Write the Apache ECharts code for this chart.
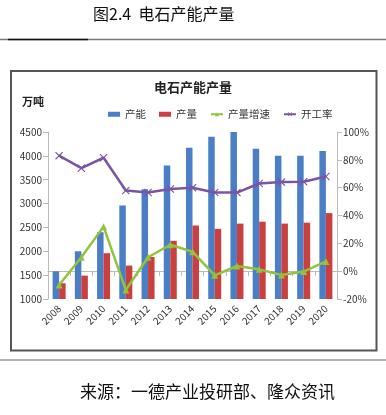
<!DOCTYPE html>
<html><head><meta charset="utf-8">
<script src="https://cdn.jsdelivr.net/npm/echarts@6/dist/echarts.min.js"></script>
<style>html,body{margin:0;padding:0;background:#fff}#c{width:386px;height:415px}</style>
</head><body><div id="c"></div>
<script>
const years = ['2008','2009','2010','2011','2012','2013','2014','2015','2016','2017','2018','2019','2020'];
const capacity = [1580,2000,2400,2960,3300,3800,4170,4400,4500,4150,4000,4000,4100];
const output = [1330,1490,1960,1700,1880,2220,2540,2470,2580,2620,2580,2600,2800];
const growth = [-10,10,32,-13.5,10,19,14,-3,3.7,1.3,-2.7,-0.3,7];
const utilization = [83,74,81.5,58,56.5,59,60,56.5,56.5,63,64,64.3,68];
const leftTicks = {min:1000,max:4500,interval:500};
const rightTicks = {min:-20,max:100,interval:20};

const FONT = '"Noto Sans CJK SC", "Liberation Sans", sans-serif';
const crossPath = 'path://M0,1L1,0L5,4L9,0L10,1L6,5L10,9L9,10L5,6L1,10L0,9L4,5Z';
const chart = echarts.init(document.getElementById('c'), null, {renderer:'canvas'});
chart.setOption({
  animation:false,
  backgroundColor:'#fff',
  textStyle:{fontFamily:FONT},
  title:{text:'电石产能产量',left:'center',top:76,textStyle:{fontSize:13,fontWeight:'bold',color:'#222',fontFamily:FONT}},
  legend:{left:103,top:104,itemWidth:12,itemHeight:5,itemGap:13,
    textStyle:{fontSize:10.5,color:'#333',fontFamily:FONT},
    data:[{name:'产能',icon:'rect'},{name:'产量',icon:'rect'},{name:'产量增速'},{name:'开工率'}]},
  grid:{left:48,right:49,top:132,bottom:116,containLabel:false},
  xAxis:{type:'category',data:years,boundaryGap:true,
    axisLine:{lineStyle:{color:'#bbb'}},axisTick:{show:true,alignWithLabel:false,lineStyle:{color:'#bbb'}},
    axisLabel:{rotate:45,fontSize:10,color:'#333',margin:8,interval:0}},
  yAxis:[
    {type:'value',min:leftTicks.min,max:leftTicks.max,interval:leftTicks.interval,
     axisLine:{show:true,lineStyle:{color:'#bbb'}},axisTick:{show:true,lineStyle:{color:'#bbb'}},
     splitLine:{show:false},axisLabel:{fontSize:10,color:'#333',margin:6,formatter:function(v){return String(v);}}},
    {type:'value',min:rightTicks.min,max:rightTicks.max,interval:rightTicks.interval,position:'right',
     axisLine:{show:true,lineStyle:{color:'#bbb'}},axisTick:{show:true,lineStyle:{color:'#bbb'}},
     splitLine:{show:false},axisLabel:{fontSize:10,color:'#333',margin:6,formatter:'{value}%'}}
  ],
  series:[
    {name:'产能',type:'bar',data:capacity,barWidth:6.5,barGap:'0%',itemStyle:{color:'#4A7EC7'}},
    {name:'产量',type:'bar',data:output,barWidth:6.5,barGap:'0%',itemStyle:{color:'#C9403E'}},
    {name:'产量增速',type:'line',yAxisIndex:1,data:growth,symbol:'triangle',symbolSize:7,
     lineStyle:{width:2.5,color:'#92C23E'},itemStyle:{color:'#92C23E'}},
    {name:'开工率',type:'line',yAxisIndex:1,data:utilization,symbol:crossPath,symbolSize:8,
     lineStyle:{width:2.5,color:'#7A54A6'},itemStyle:{color:'#7A54A6'}}
  ],
  graphic:[
    {type:'text',left:93,top:6,style:{text:'图2.4  电石产能产量',fontSize:16,fill:'#111',fontFamily:FONT}},
    {type:'line',shape:{x1:0,y1:39.5,x2:386,y2:39.5},style:{stroke:'#777',lineWidth:1.5}},
    {type:'line',shape:{x1:8,y1:39.5,x2:88,y2:39.5},style:{stroke:'#111',lineWidth:1.5}},
    {type:'rect',shape:{x:11,y:71,width:365.5,height:279.5},style:{fill:'none',stroke:'#555',lineWidth:2}},
    {type:'text',left:22,top:96,style:{text:'万吨',fontSize:11,fontWeight:'bold',fill:'#222',fontFamily:FONT}},
    {type:'line',shape:{x1:0,y1:360,x2:386,y2:360},style:{stroke:'#999',lineWidth:1.5}},
    {type:'text',left:80,top:383,style:{text:'来源：一德产业投研部、隆众资讯',fontSize:17,fill:'#111',fontFamily:FONT}}
  ]
});
</script></body></html>
